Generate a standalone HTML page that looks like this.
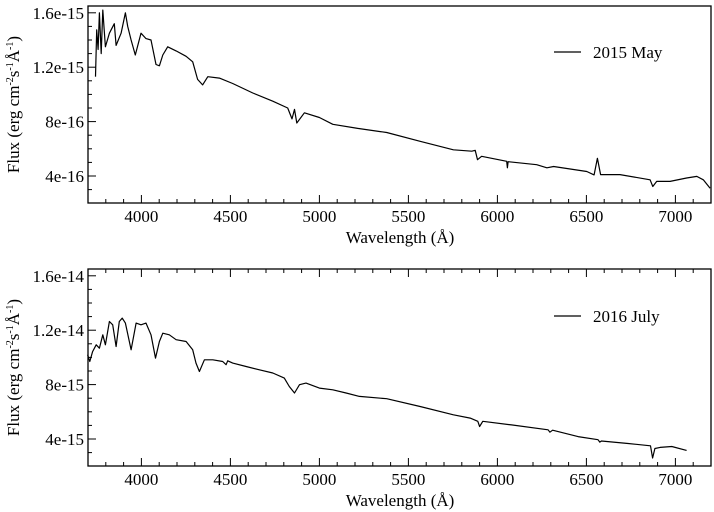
<!DOCTYPE html>
<html><head><meta charset="utf-8"><style>
html,body{margin:0;padding:0;background:#fff;width:714px;height:512px;overflow:hidden}
svg{display:block;font-family:"Liberation Serif",serif}
</style></head><body>
<svg id="c" width="714" height="512"></svg>
<script>
const xTicks=[4000,4500,5000,5500,6000,6500,7000];
const topYTicks=[4,8,12,16];
const topYLabels=["4e-16","8e-16","1.2e-15","1.6e-15"];
const botYTicks=[4,8,12,16];
const botYLabels=["4e-15","8e-15","1.2e-14","1.6e-14"];
const wlMay=[3742,3749,3757,3764,3774,3783,3798,3820,3848,3858,3886,3910,3923,3942,3966,3998,4026,4054,4082,4101,4120,4148,4195,4251,4288,4316,4344,4373,4438,4513,4626,4738,4822,4846,4860,4873,4916,5000,5075,5215,5378,5566,5753,5856,5875,5888,5911,6052,6056,6060,6221,6278,6316,6502,6543,6562,6580,6689,6858,6873,6895,6970,7063,7120,7157,7195];
const fluxMay=[11.3,14.75,13.3,16.0,13.0,16.2,13.5,14.5,15.2,13.6,14.5,16.0,15.0,14.0,12.9,14.5,14.1,14.0,12.2,12.1,12.9,13.5,13.2,12.8,12.4,11.1,10.7,11.3,11.2,10.8,10.1,9.5,9.0,8.2,8.9,7.9,8.65,8.3,7.8,7.5,7.2,6.55,5.93,5.82,5.89,5.2,5.45,5.08,4.6,5.05,4.83,4.6,4.7,4.33,4.08,5.3,4.1,4.1,3.72,3.23,3.6,3.6,3.85,3.97,3.72,3.1];
const wlJul=[3698,3710,3726,3746,3764,3783,3798,3820,3839,3858,3876,3892,3910,3942,3970,3998,4026,4054,4079,4101,4120,4157,4195,4251,4288,4307,4326,4354,4401,4457,4476,4485,4513,4588,4663,4738,4803,4831,4860,4888,4925,5000,5075,5150,5225,5378,5566,5753,5847,5890,5900,5918,6079,6285,6295,6310,6453,6565,6575,6584,6734,6860,6872,6885,6914,6980,7063];
const fluxJul=[10.2,9.7,10.43,10.93,10.68,11.66,10.93,12.64,12.4,10.8,12.64,12.89,12.52,10.56,12.52,12.4,12.52,11.66,9.95,11.17,11.78,11.66,11.3,11.17,10.56,9.58,8.96,9.82,9.82,9.7,9.46,9.75,9.58,9.33,9.09,8.85,8.48,7.86,7.38,7.99,8.11,7.74,7.62,7.38,7.13,6.96,6.39,5.78,5.54,5.3,4.92,5.3,5.04,4.68,4.5,4.65,4.18,3.95,3.77,3.85,3.67,3.5,2.6,3.3,3.38,3.45,3.16];
const NS='http://www.w3.org/2000/svg';
const svg=document.getElementById('c');
function el(t,a,p){const e=document.createElementNS(NS,t);for(const k in a)e.setAttribute(k,a[k]);(p||svg).appendChild(e);return e;}
const X0=88,X1=711,XMIN=3700,XMAX=7200;
function xs(v){return X0+(v-XMIN)/(XMAX-XMIN)*(X1-X0);}
function panel(o){
  const g=el('g',{});
  
  
  const ys=v=>o.y4+(4-v)*o.k;
  const fr=el('rect',{x:X0,y:o.top,width:X1-X0,height:o.bot-o.top,fill:'none',stroke:'#000','stroke-width':1.3},g);
  
  for(let w=3800;w<=7200;w+=100){
    const maj=w%500===0,L=maj?8:4,x=xs(w);
    el('line',{x1:x,x2:x,y1:o.bot,y2:o.bot-L,stroke:'#000','stroke-width':1},g);
    if(o.topTicks) el('line',{x1:x,x2:x,y1:o.top,y2:o.top+L,stroke:'#000','stroke-width':1},g);
  }
  xTicks.forEach(w=>{const t=el('text',{x:xs(w),y:o.bot+19,'text-anchor':'middle','font-size':17},g);t.textContent=w;
    });
  for(let v=2;v<=16.5;v+=1){const y=ys(v);if(y<o.top+1||y>o.bot-1)continue;
    const maj=v%4===0;el('line',{x1:X0,x2:X0+(maj?8:4),y1:y,y2:y,stroke:'#000','stroke-width':1},g);}
  o.yt.forEach((v,i)=>{const t=el('text',{x:X0-4,y:ys(v)+6,'text-anchor':'end','font-size':17},g);t.textContent=o.yl[i];
    });
  const xt=el('text',{x:400,y:o.bot+40,'text-anchor':'middle','font-size':17},g);xt.textContent='Wavelength (Å)';
  
  const cy=(o.top+o.bot)/2;
  const yt=el('text',{x:0,y:0,'text-anchor':'middle','font-size':17,transform:`translate(19,${cy}) rotate(-90)`},g);
  yt.innerHTML='Flux (erg cm<tspan dy="-6" font-size="10">-2</tspan><tspan dy="6">s</tspan><tspan dy="-6" font-size="10">-1</tspan><tspan dy="6">Å</tspan><tspan dy="-6" font-size="10">-1</tspan><tspan dy="6">)</tspan>';
  
  let d='';o.wl.forEach((w,i)=>{d+=(i?'L':'M')+xs(w).toFixed(1)+','+ys(o.fl[i]).toFixed(1);});
  const p=el('path',{d:d,fill:'none',stroke:'#000','stroke-width':1.2,'stroke-linejoin':'round'},g);
  
  const lg=el('g',{},g);
  
  el('line',{x1:554,x2:581,y1:o.legY,y2:o.legY,stroke:'#000','stroke-width':1.2},lg);
  const lt=el('text',{x:593,y:o.legY+6,'font-size':17},lg);lt.textContent=o.leg;
}
panel({name:'panel-2015-may',top:6,bot:203,y4:176,k:13.6,yt:topYTicks,yl:topYLabels,wl:wlMay,fl:fluxMay,leg:'2015 May',legY:52,topTicks:false});
panel({name:'panel-2016-july',top:269,bot:466,y4:439,k:13.6,yt:botYTicks,yl:botYLabels,wl:wlJul,fl:fluxJul,leg:'2016 July',legY:316,topTicks:true});
</script>
</body></html>
